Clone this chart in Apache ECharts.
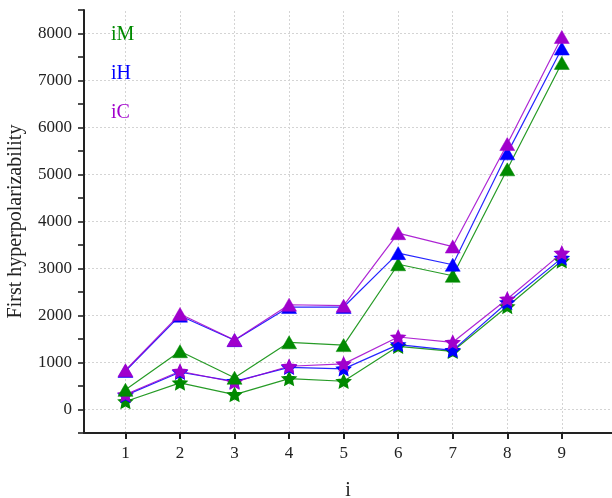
<!DOCTYPE html>
<html>
<head>
<meta charset="utf-8">
<script src="https://cdn.jsdelivr.net/npm/echarts@6/dist/echarts.min.js"></script>
<style>html,body{margin:0;padding:0;background:#fff}#c{width:612px;height:498px}</style>
</head>
<body>
<div id="c"></div>
<script>
var categories = [1, 2, 3, 4, 5, 6, 7, 8, 9];
var yTickLabels = [0, 1000, 2000, 3000, 4000, 5000, 6000, 7000, 8000];
var yMinorTicks = [-500, 0, 500, 1000, 1500, 2000, 2500, 3000, 3500, 4000, 4500, 5000, 5500, 6000, 6500, 7000, 7500, 8000, 8500];
var iM_tri  = [418, 1240, 675, 1430, 1370, 3090, 2845, 5110, 7374];
var iH_tri  = [820, 1996, 1475, 2180, 2180, 3327, 3079, 5450, 7680];
var iC_tri  = [835, 2031, 1480, 2229, 2208, 3751, 3467, 5648, 7926];
var iM_star = [170, 566, 318, 658, 601, 1344, 1238, 2193, 3164];
var iH_star = [300, 792, 600, 898, 864, 1380, 1259, 2278, 3221];
var iC_star = [318, 814, 580, 920, 970, 1543, 1429, 2350, 3327];

var GREEN = '#008a00', BLUE = '#0000ff', PURPLE = '#a000cc';
var STAR = 'path://M50,0 L64.1,30.6 L97.55,34.55 L72.8,57.4 L79.4,90.45 L50,74 L20.6,90.45 L27.2,57.4 L2.45,34.55 L35.9,30.6 Z';

function pairs(vals) { return categories.map(function (c, i) { return [c, vals[i]]; }); }
function mk(name, vals, color, symbol, size, bw, z) {
  return {
    name: name, type: 'line', data: pairs(vals), symbol: symbol, symbolSize: size, symbolKeepAspect: true,
    z: z, lineStyle: { color: color, width: 1.2, opacity: 0.85 },
    itemStyle: { color: color, borderColor: color, borderWidth: bw, opacity: 1 },
    emphasis: { disabled: true }, animation: false
  };
}

var gridLines = categories.map(function (c) { return { xAxis: c }; })
  .concat(yTickLabels.map(function (v) { return { yAxis: v }; }));

var chart = echarts.init(document.getElementById('c'), null, { renderer: 'canvas' });
chart.setOption({
  animation: false,
  backgroundColor: '#fff',
  textStyle: { fontFamily: 'Liberation Serif, Times New Roman, serif' },
  grid: { left: 84, right: 0, top: 10, bottom: 65, containLabel: false, outerBoundsMode: 'none' },
  legend: {
    orient: 'vertical', left: 101, top: 20, itemGap: 19, icon: 'none', itemWidth: 0, itemHeight: 0,
    selectedMode: false,
    textStyle: { fontSize: 20, fontFamily: 'Liberation Serif, serif' },
    data: [
      { name: 'iM', textStyle: { color: GREEN } },
      { name: 'iH', textStyle: { color: BLUE } },
      { name: 'iC', textStyle: { color: PURPLE } }
    ]
  },
  xAxis: {
    type: 'value', min: 0.24, max: 9.92,
    name: 'i', nameLocation: 'middle', nameGap: 48,
    nameTextStyle: { fontSize: 20, color: '#222', fontFamily: 'Liberation Serif, serif' },
    axisLine: { show: true, onZero: false, lineStyle: { color: '#222', width: 2 } },
    axisTick: { show: true, customValues: categories, length: 6, lineStyle: { color: '#222', width: 2 } },
    axisLabel: { customValues: categories, fontSize: 17, color: '#222', margin: 12, fontFamily: 'Liberation Serif, serif' },
    splitLine: { show: false }
  },
  yAxis: {
    type: 'value', min: -500, max: 8500,
    name: 'First hyperpolarizability', nameLocation: 'middle', nameGap: 58,
    nameTextStyle: { fontSize: 20, color: '#222', fontFamily: 'Liberation Serif, serif' },
    axisLine: { show: true, onZero: false, lineStyle: { color: '#222', width: 2 } },
    axisTick: { show: true, customValues: yMinorTicks, length: 6, lineStyle: { color: '#222', width: 1.6 } },
    axisLabel: { customValues: yTickLabels, fontSize: 17, color: '#222', margin: 12, fontFamily: 'Liberation Serif, serif',
      formatter: function (v) { return String(v); } },
    splitLine: { show: false }
  },
  series: [
    {
      name: 'grid', type: 'line', data: [], z: 0, silent: true,
      markLine: {
        z: 0, silent: true, symbol: 'none', animation: false, label: { show: false },
        lineStyle: { color: '#d4d4d4', type: [2, 2], width: 1 },
        emphasis: { disabled: true },
        data: gridLines
      }
    },
    mk('iM', iM_star, GREEN, STAR, 13, 1.6, 2),
    mk('iH', iH_star, BLUE, STAR, 13, 1.6, 3),
    mk('iC', iC_star, PURPLE, STAR, 13, 1.6, 4),
    mk('iM', iM_tri, GREEN, 'triangle', [15, 13], 0.5, 5),
    mk('iH', iH_tri, BLUE, 'triangle', [15, 13], 0.5, 6),
    mk('iC', iC_tri, PURPLE, 'triangle', [15, 13], 0.5, 7)
  ]
});
</script>
</body>
</html>
